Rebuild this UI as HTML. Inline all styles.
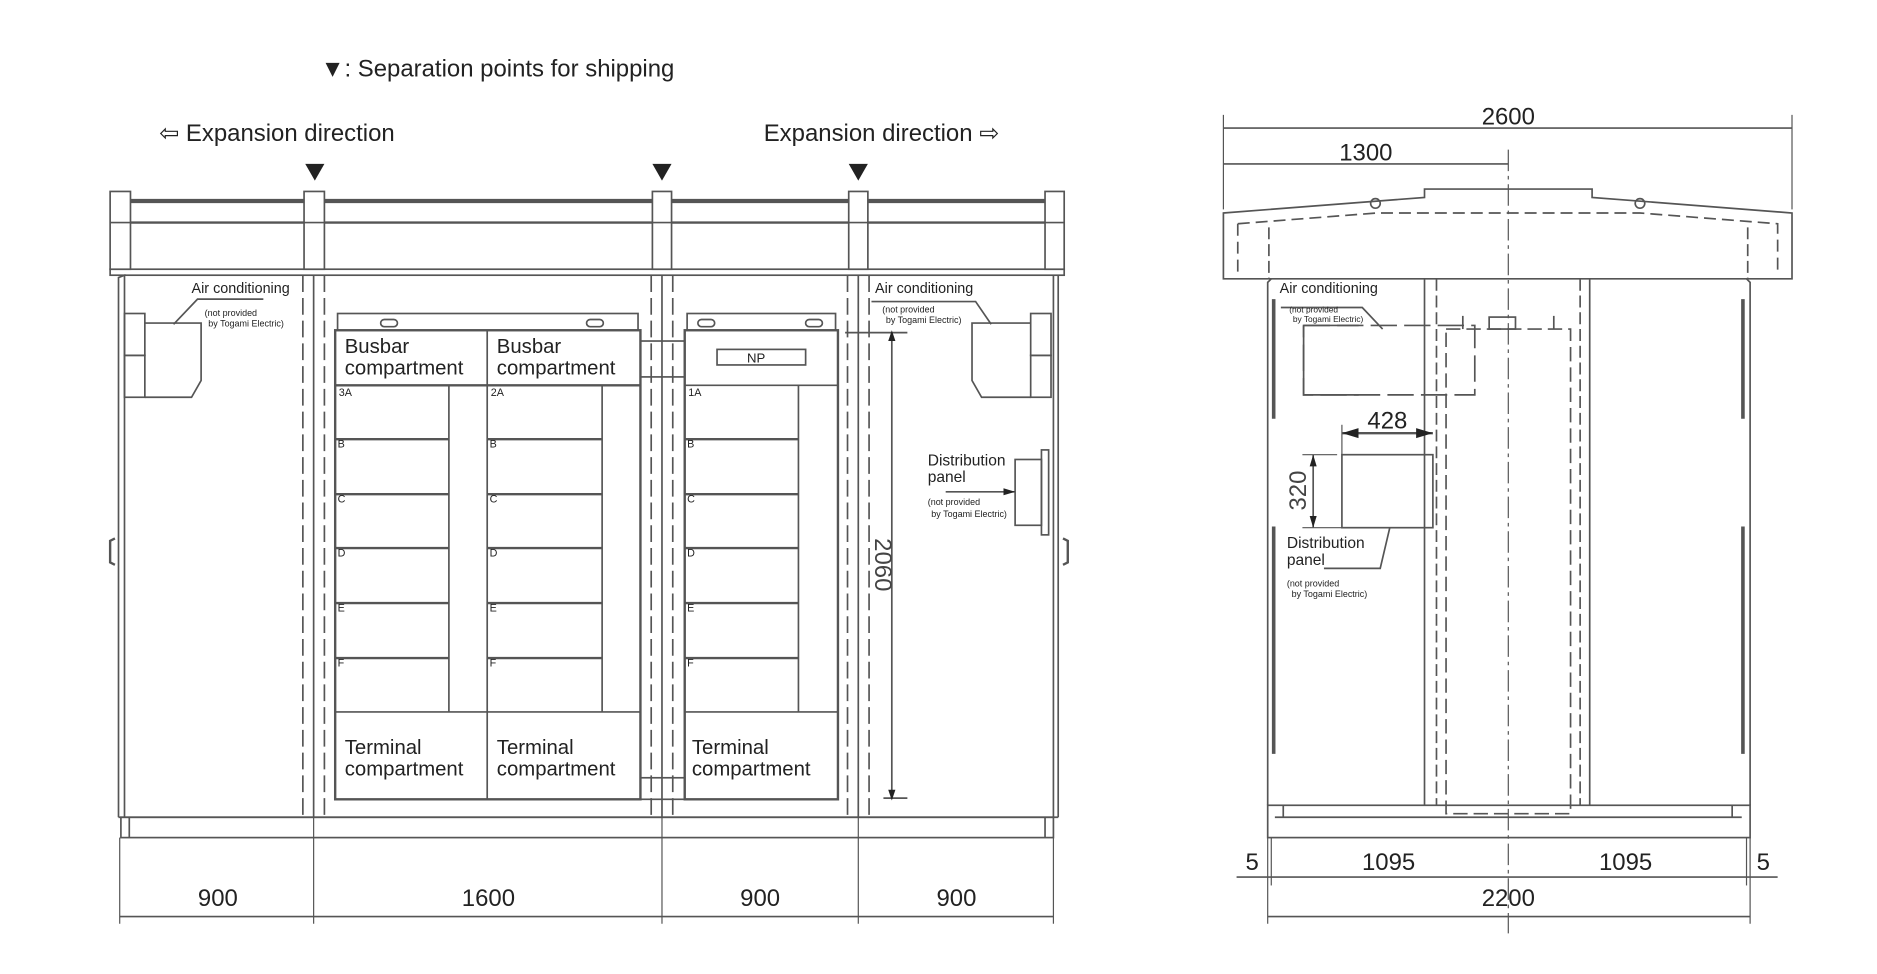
<!DOCTYPE html>
<html><head><meta charset="utf-8"><style>
html,body{margin:0;padding:0;background:#fff}
svg{display:block}
text{font-family:"Liberation Sans",sans-serif;fill:#222}
.d{font-family:"Liberation Sans",sans-serif;font-size:20px;fill:#444}
</style></head><body>
<svg width="1877" height="974" viewBox="0 0 1568 814" preserveAspectRatio="none" xmlns="http://www.w3.org/2000/svg">
<defs>
<marker id="a" viewBox="0 0 10 10" refX="10" refY="5" markerWidth="7" markerHeight="7" orient="auto-start-reverse"><path d="M0,2 L10,5 L0,8z" fill="#222"/></marker>
</defs>
<text x="268" y="64" font-size="20">▼: Separation points for shipping</text>
<text x="133" y="118" font-size="20">⇦ Expansion direction</text>
<text x="638" y="118" font-size="20">Expansion direction ⇨</text>
<g fill="#222"><path d="M255,137 L271,137 L263,151z"/><path d="M545,137 L561,137 L553,151z"/><path d="M709,137 L725,137 L717,151z"/></g>

<!-- FRONT VIEW -->
<g stroke="#555" fill="none" stroke-width="1.4">
<line x1="92" y1="168" x2="889" y2="168" stroke-width="3.5"/>
<line x1="92" y1="186" x2="889" y2="186" stroke-width="2"/>
<rect x="92" y="225" width="797" height="5"/>
<g fill="#fff">
<rect x="92" y="160" width="17" height="65"/><rect x="254" y="160" width="17" height="65"/><rect x="545" y="160" width="16" height="65"/><rect x="709" y="160" width="16" height="65"/><rect x="873" y="160" width="16" height="65"/>
</g>
<line x1="92" y1="186" x2="109" y2="186"/><line x1="254" y1="186" x2="271" y2="186"/><line x1="545" y1="186" x2="561" y2="186"/><line x1="709" y1="186" x2="725" y2="186"/><line x1="873" y1="186" x2="889" y2="186"/>
<path d="M99,683 L99,232 L104,230 L104,683"/>
<line x1="884" y1="230" x2="884" y2="683"/>
<line x1="880" y1="230" x2="880" y2="683"/>
<line x1="99" y1="683" x2="884" y2="683"/>
<rect x="101" y="683" width="779" height="17"/>
<line x1="108" y1="683" x2="108" y2="700"/><line x1="873" y1="683" x2="873" y2="700"/>
<path d="M96,450 L92,452 L92,470 L96,472" stroke-width="2"/>
<path d="M888,450 L892,452 L892,470 L888,472" stroke-width="2"/>
<g stroke-dasharray="14,5"><line x1="253" y1="230" x2="253" y2="683"/><line x1="271" y1="230" x2="271" y2="683"/><line x1="544" y1="230" x2="544" y2="683"/><line x1="562" y1="230" x2="562" y2="683"/><line x1="708" y1="230" x2="708" y2="683"/><line x1="726" y1="230" x2="726" y2="683"/></g>
<line x1="262" y1="230" x2="262" y2="683"/><line x1="553" y1="230" x2="553" y2="683"/><line x1="717" y1="230" x2="717" y2="683"/>
<rect x="282" y="262" width="251" height="14"/>
<rect x="280" y="276" width="255" height="392" stroke-width="2"/>
<line x1="280" y1="322" x2="535" y2="322" stroke-width="2"/>
<line x1="407" y1="276" x2="407" y2="668"/>
<line x1="375" y1="322" x2="375" y2="595"/><line x1="503" y1="322" x2="503" y2="595"/>
<line x1="280" y1="595" x2="535" y2="595"/>
<g stroke-width="2"><line x1="280" y1="367" x2="375" y2="367"/><line x1="280" y1="413" x2="375" y2="413"/><line x1="280" y1="458" x2="375" y2="458"/><line x1="280" y1="504" x2="375" y2="504"/><line x1="280" y1="550" x2="375" y2="550"/>
<line x1="407" y1="367" x2="503" y2="367"/><line x1="407" y1="413" x2="503" y2="413"/><line x1="407" y1="458" x2="503" y2="458"/><line x1="407" y1="504" x2="503" y2="504"/><line x1="407" y1="550" x2="503" y2="550"/>
<line x1="572" y1="367" x2="667" y2="367"/><line x1="572" y1="413" x2="667" y2="413"/><line x1="572" y1="458" x2="667" y2="458"/><line x1="572" y1="504" x2="667" y2="504"/><line x1="572" y1="550" x2="667" y2="550"/></g>
<rect x="318" y="267" width="14" height="6" rx="3"/><rect x="490" y="267" width="14" height="6" rx="3"/>
<rect x="583" y="267" width="14" height="6" rx="3"/><rect x="673" y="267" width="14" height="6" rx="3"/>
<rect x="574" y="262" width="124" height="14"/>
<rect x="572" y="276" width="128" height="392" stroke-width="2"/>
<line x1="572" y1="322" x2="700" y2="322"/>
<line x1="667" y1="322" x2="667" y2="595"/>
<line x1="572" y1="595" x2="700" y2="595"/>
<rect x="599" y="292" width="74" height="13"/>
<rect x="535" y="285" width="37" height="30"/>
<rect x="535" y="650" width="37" height="18"/>
<rect x="104" y="262" width="17" height="35"/><rect x="104" y="297" width="17" height="35"/>
<path d="M121,270 L168,270 L168,318 L160,332 L121,332"/>
<path d="M145,271 L165,250 L220,250"/>
<rect x="861" y="262" width="17" height="35"/><rect x="861" y="297" width="17" height="35"/>
<path d="M861,270 L812,270 L812,318 L820,332 L861,332"/>
<path d="M828,271 L815,252 L728,252"/>
<rect x="848" y="384" width="22" height="55"/><rect x="870" y="376" width="6" height="71"/>
<line x1="790" y1="411" x2="848" y2="411" marker-end="url(#a)"/>
<line x1="745" y1="280" x2="745" y2="667"/>
<line x1="706" y1="278" x2="758" y2="278"/><line x1="738" y1="667" x2="758" y2="667"/>
<g stroke-width="1"><line x1="100" y1="700" x2="100" y2="772"/><line x1="262" y1="683" x2="262" y2="772"/><line x1="553" y1="683" x2="553" y2="772"/><line x1="717" y1="683" x2="717" y2="772"/><line x1="880" y1="700" x2="880" y2="772"/></g>
<line x1="100" y1="766" x2="880" y2="766"/>
</g>
<g fill="#222"><path d="M745,276 l-3,9 h6z"/><path d="M745,669 l-3,-9 h6z"/></g>
<text class="d" transform="translate(731,472) rotate(90)" text-anchor="middle" font-size="22">2060</text>
<g font-size="17"><text x="288" y="295">Busbar</text><text x="288" y="313">compartment</text><text x="415" y="295">Busbar</text><text x="415" y="313">compartment</text>
<text x="288" y="630">Terminal</text><text x="288" y="648">compartment</text><text x="415" y="630">Terminal</text><text x="415" y="648">compartment</text><text x="578" y="630">Terminal</text><text x="578" y="648">compartment</text></g>
<g font-size="9" fill="#555"><text x="283" y="331">3A</text><text x="410" y="331">2A</text><text x="575" y="331">1A</text>
<text x="282" y="374">B</text><text x="409" y="374">B</text><text x="574" y="374">B</text><text x="282" y="420">C</text><text x="409" y="420">C</text><text x="574" y="420">C</text><text x="282" y="465">D</text><text x="409" y="465">D</text><text x="574" y="465">D</text><text x="282" y="511">E</text><text x="409" y="511">E</text><text x="574" y="511">E</text><text x="282" y="557">F</text><text x="409" y="557">F</text><text x="574" y="557">F</text></g>
<text x="624" y="303" font-size="11">NP</text>
<text x="160" y="245" font-size="12">Air conditioning</text>
<text x="171" y="264" font-size="7.5">(not provided</text><text x="174" y="273" font-size="7.5">by Togami Electric)</text>
<text x="731" y="245" font-size="12">Air conditioning</text>
<text x="737" y="261" font-size="7.5">(not provided</text><text x="740" y="270" font-size="7.5">by Togami Electric)</text>
<text x="775" y="389" font-size="13">Distribution</text><text x="775" y="403" font-size="13">panel</text>
<text x="775" y="422" font-size="7.5">(not provided</text><text x="778" y="432" font-size="7.5">by Togami Electric)</text>
<g class="d" text-anchor="middle"><text x="182" y="757">900</text><text x="408" y="757">1600</text><text x="635" y="757">900</text><text x="799" y="757">900</text></g>

<!-- SIDE VIEW -->
<g stroke="#555" fill="none" stroke-width="1.4">
<g stroke-width="1"><line x1="1022" y1="96" x2="1022" y2="175"/><line x1="1497" y1="96" x2="1497" y2="175"/></g>
<line x1="1022" y1="107" x2="1497" y2="107"/>
<line x1="1022" y1="137" x2="1260" y2="137"/>
<path d="M1022,178 L1190,165 L1190,158 L1330,158 L1330,165 L1497,178 L1497,233 L1022,233z" fill="#fff"/>
<path d="M1034,187 L1150,178 L1370,178 L1485,187 L1485,228 M1034,187 L1034,228" stroke-dasharray="10,5"/>
<line x1="1060" y1="190" x2="1060" y2="233" stroke-dasharray="10,4"/><line x1="1460" y1="190" x2="1460" y2="233" stroke-dasharray="10,4"/>
<circle cx="1149" cy="170" r="4"/><circle cx="1370" cy="170" r="4"/>
<line x1="1260" y1="125" x2="1260" y2="780" stroke-width="1" stroke-dasharray="18,4,3,4"/>
<path d="M1059,673 L1059,236 L1062,233 M1462,673 L1462,236 L1459,233"/>
<path d="M1064,250 L1064,350 M1064,440 L1064,630 M1456,250 L1456,350 M1456,440 L1456,630" stroke-width="3"/>
<line x1="1190" y1="233" x2="1190" y2="673"/><line x1="1200" y1="233" x2="1200" y2="673" stroke-dasharray="10,4"/>
<line x1="1320" y1="233" x2="1320" y2="673" stroke-dasharray="10,4"/><line x1="1328" y1="233" x2="1328" y2="673"/>
<rect x="1208" y="275" width="104" height="405" stroke-dasharray="12,5"/>
<rect x="1244" y="265" width="22" height="10"/>
<line x1="1222" y1="264" x2="1222" y2="275"/><line x1="1298" y1="264" x2="1298" y2="275"/>
<path d="M1089,272 L1232,272 L1232,330 L1089,330z" stroke-dasharray="22,6"/>
<path d="M1089,272 L1135,272 M1089,272 L1089,330 L1135,330"/>
<path d="M1070,257 L1138,257 L1155,275"/>
<rect x="1121" y="380" width="76" height="61"/>
<line x1="1121" y1="362" x2="1197" y2="362" marker-start="url(#a)" marker-end="url(#a)" stroke-width="2"/>
<line x1="1121" y1="355" x2="1121" y2="380" stroke-width="1"/>
<line x1="1097" y1="380" x2="1097" y2="441" marker-start="url(#a)" marker-end="url(#a)"/>
<line x1="1088" y1="380" x2="1117" y2="380" stroke-width="1"/><line x1="1088" y1="441" x2="1121" y2="441" stroke-width="1"/>
<path d="M1161,441 L1153,475 L1106,475"/>
<rect x="1059" y="673" width="403" height="27"/>
<line x1="1072" y1="673" x2="1072" y2="683"/><line x1="1447" y1="673" x2="1447" y2="683"/>
<line x1="1065" y1="683" x2="1455" y2="683"/>
<g stroke-width="1"><line x1="1059" y1="700" x2="1059" y2="772"/><line x1="1062" y1="700" x2="1062" y2="740"/><line x1="1462" y1="700" x2="1462" y2="772"/><line x1="1459" y1="700" x2="1459" y2="740"/></g>
<line x1="1033" y1="733" x2="1485" y2="733"/>
<line x1="1059" y1="766" x2="1462" y2="766"/>
</g>
<g class="d" text-anchor="middle"><text x="1260" y="104">2600</text><text x="1141" y="134">1300</text><text x="1159" y="358">428</text>
<text x="1046" y="727">5</text><text x="1160" y="727">1095</text><text x="1358" y="727">1095</text><text x="1473" y="727">5</text><text x="1260" y="757">2200</text></g>
<text class="d" transform="translate(1091,410) rotate(-90)" text-anchor="middle">320</text>
<text x="1069" y="245" font-size="12">Air conditioning</text>
<text x="1077" y="261" font-size="7">(not provided</text><text x="1080" y="269" font-size="7">by Togami Electric)</text>
<text x="1075" y="458" font-size="13">Distribution</text><text x="1075" y="472" font-size="13">panel</text>
<text x="1075" y="490" font-size="7.5">(not provided</text><text x="1079" y="499" font-size="7.5">by Togami Electric)</text>
</svg>
</body></html>
